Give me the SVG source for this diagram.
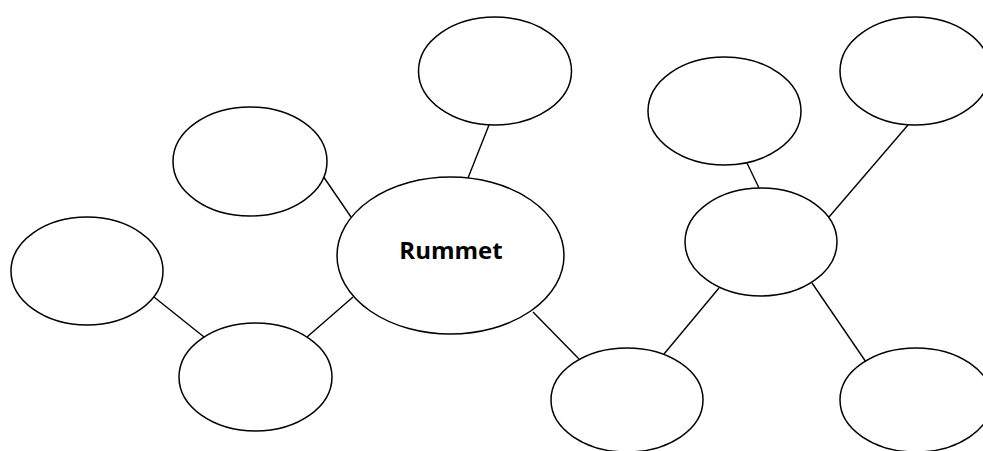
<svg xmlns="http://www.w3.org/2000/svg" width="983" height="451" viewBox="0 0 983 451">
<style>
.n{fill:#fff;stroke:#000;stroke-width:1.5}
.c line{stroke:#000;stroke-width:1.4}
.t{font-family:"Open Sans","Liberation Sans",sans-serif;font-weight:bold;font-size:24px;fill:#000}
</style>
<rect width="983" height="451" fill="#fff"/>
<g class="c" id="connectors">
<line x1="489" y1="125" x2="468" y2="178"/>
<line x1="323" y1="176" x2="351" y2="217"/>
<line x1="154" y1="297" x2="204" y2="337"/>
<line x1="307" y1="337" x2="353" y2="297"/>
<line x1="533" y1="312" x2="579" y2="359"/>
<line x1="664" y1="354" x2="719" y2="288"/>
<line x1="747" y1="163" x2="759" y2="188"/>
<line x1="829" y1="217" x2="908" y2="125"/>
<line x1="812" y1="283" x2="866" y2="362"/>
</g>
<g id="n-top"><ellipse class="n" cx="495" cy="71" rx="76.5" ry="54"/></g>
<g id="n-upperleft"><ellipse class="n" cx="250" cy="161.5" rx="77" ry="54.5"/></g>
<g id="n-farleft"><ellipse class="n" cx="87" cy="271" rx="76" ry="54"/></g>
<g id="n-bottomleft"><ellipse class="n" cx="255.5" cy="377" rx="76.5" ry="54"/></g>
<g id="n-center"><ellipse class="n" cx="450.5" cy="255.5" rx="113.5" ry="78.5"/><text class="t" x="451" y="259" text-anchor="middle">Rummet</text></g>
<g id="n-bottomcenter"><ellipse class="n" cx="627" cy="400" rx="76" ry="52"/></g>
<g id="n-upperright"><ellipse class="n" cx="724.5" cy="111" rx="76.5" ry="54"/></g>
<g id="n-rightcenter"><ellipse class="n" cx="761" cy="242" rx="76" ry="54"/></g>
<g id="n-topright"><ellipse class="n" cx="915" cy="71" rx="75" ry="54"/></g>
<g id="n-bottomright"><ellipse class="n" cx="916" cy="400" rx="76" ry="52"/></g>
</svg>
